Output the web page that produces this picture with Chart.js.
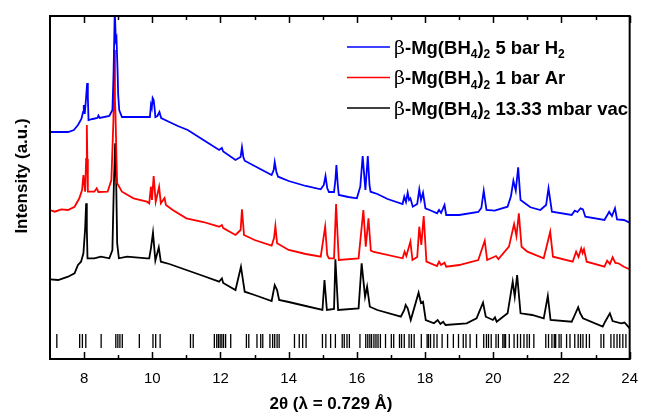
<!DOCTYPE html>
<html>
<head>
<meta charset="utf-8">
<script src="https://cdn.jsdelivr.net/npm/chart.js@4.4.0/dist/chart.umd.min.js"></script>
<style>
  html, body { margin: 0; padding: 0; background: #fff; }
  canvas { display: block; }
</style>
</head>
<body>
<canvas id="grafica" width="649" height="414"></canvas>
<script>
// 2theta (deg) and intensity (a.u.), offset curves
const h2Angle = [7.00,7.30,7.53,7.70,7.82,7.92,7.97,7.99,8.02,8.06,8.09,8.11,8.13,8.25,8.39,8.42,8.46,8.74,8.83,8.86,8.90,8.93,8.95,8.98,9.00,9.03,9.11,9.50,9.93,9.96,9.985,10.01,10.04,10.07,10.09,10.15,10.21,10.26,10.50,10.75,11.04,11.50,11.96,12.04,12.08,12.44,12.59,12.63,12.67,12.71,13.00,13.50,13.56,13.59,13.64,13.69,14.00,14.50,14.94,15.03,15.08,15.13,15.18,15.33,15.37,15.40,15.44,15.47,15.75,16.00,16.10,16.17,16.25,16.32,16.37,16.40,16.60,16.90,17.34,17.39,17.44,17.49,17.53,17.57,17.64,17.77,17.83,17.88,17.94,18.01,18.20,18.35,18.41,18.47,18.57,18.62,19.00,19.56,19.65,19.72,19.80,20.04,20.42,20.52,20.59,20.66,20.73,20.80,21.09,21.38,21.55,21.62,21.72,22.30,22.39,22.47,22.56,22.63,22.70,23.26,23.40,23.48,23.57,23.63,23.83,24.00];
const h2Int = [227,227,227,229,234,240,247,254,245,262,276,262,239,240,241,243.5,241,243,249,279,349,319,321,290,264,249,242,242,242,254,251,261,259,250,242,243,247,241,237,233,229,219,209,211,207.5,199,202,211.7,202,198.3,193,184,189,197,187,182.3,178,173,169.7,174,183,171,167,167,179,194,174,164,162,160.7,172.3,203,169,203,174,167.3,165,160,155,162.3,157,166.3,159,160.7,152.3,155,169.7,159,166.3,150.7,148,145.7,149,146,154,144,144,147,151,168.3,149,148.3,152.3,163,178.3,168.3,191.7,159,151.7,149,154,170.7,147.3,144,148.3,147,150.7,149.7,142.3,139,147.3,143,150.7,139.7,139,136.3];

const arAngle = [7.00,7.14,7.33,7.53,7.72,7.86,7.94,7.98,8.03,8.06,8.08,8.095,8.11,8.30,8.37,8.42,8.69,8.80,8.86,8.88,8.905,8.92,8.95,8.97,9.11,9.45,9.84,9.91,9.96,9.99,10.04,10.10,10.20,10.25,10.36,10.40,10.60,11.00,11.50,11.96,12.04,12.08,12.44,12.59,12.63,12.69,13.00,13.50,13.57,13.61,13.66,14.00,14.50,14.94,15.07,15.13,15.18,15.33,15.39,15.47,16.05,16.19,16.26,16.34,16.41,16.50,17.34,17.40,17.45,17.57,17.63,17.77,17.83,17.89,17.96,18.04,18.35,18.41,18.47,18.57,18.62,19.00,19.56,19.75,19.82,20.08,20.15,20.46,20.61,20.68,20.75,20.83,21.00,21.48,21.67,21.75,22.33,22.43,22.50,22.58,22.62,22.66,22.74,23.26,23.34,23.42,23.50,23.58,23.67,23.83,24.00];
const arInt = [149,147.3,149.7,149,152.3,160.7,169,184,167.3,200,234,200,167.3,167.3,170.7,167,167.3,179,239,309,259,246,200,175.7,167.3,160.7,157.3,155.7,172.3,159,183,157.3,172.3,155.7,161,154,149,140.7,137,132.3,134,131,124,129,149.7,124,119,113.3,121,133,115.7,109,105,102.3,132.3,104,100.7,100.7,155,99,100.7,149,112.3,140.7,108.3,107,100.7,107.3,103,117.3,99,102,132.3,114,143,97.3,93,97.3,94,96.3,92.3,94,99,118.3,99,103,100,112.3,135,123,145.7,112.3,107.3,100.7,127.3,102.3,97.3,107.3,102,110.7,106,109.7,97.3,92.3,98.3,95,101.7,96,95.7,92.3,89.7];

const vacAngle = [7.00,7.24,7.53,7.72,7.82,7.91,7.98,8.03,8.06,8.08,8.10,8.30,8.49,8.74,8.83,8.87,8.91,8.94,8.97,9.02,9.26,9.84,9.91,9.96,10.02,10.09,10.19,10.25,10.50,11.00,11.50,11.96,12.04,12.08,12.44,12.60,12.71,13.00,13.50,13.59,13.66,13.72,14.00,14.50,14.99,15.05,15.12,15.33,15.37,15.45,16.05,16.14,16.24,16.30,16.38,16.60,17.29,17.39,17.43,17.49,17.58,17.81,17.88,17.94,18.02,18.26,18.37,18.45,18.53,18.60,19.22,19.51,19.70,19.78,19.99,20.05,20.10,20.42,20.57,20.63,20.70,20.80,21.14,21.48,21.60,21.68,22.30,22.39,22.49,22.55,22.63,23.21,23.28,23.42,23.50,23.75,23.85,24.00];
const vacInt = [79.7,79,82.3,85.7,94,97.3,105.7,130,155.7,130,100.7,100.7,102.3,100.7,109,170,215.7,180,115.7,100.7,102.3,100.7,100.7,110.7,126.3,98.3,111.7,97.3,95,89,83,77.3,80.7,76,69,92.3,67.3,64,58,74,69,59,57,53,49,79,49,50,99.7,49,50.7,95.7,62.3,72.3,52.3,49,42.3,49,54,50.7,39,66.3,56,57.3,39,35.7,39,35,37.3,34,35.7,40.7,56.3,42.3,39,41.7,37.3,45.7,77.3,62.3,84,45.7,44,40.7,63,39,37.3,44,51.7,45.7,40.7,32.3,37.3,45.7,38,35.7,36.5,30.7];

// reference reflection positions (2theta)
const refAngle = [7.20,7.87,7.95,8.05,8.50,8.93,8.99,9.05,9.12,9.62,10.02,10.10,10.23,11.12,11.20,11.82,11.89,11.94,11.99,12.04,12.09,12.15,12.30,12.76,12.83,13.07,13.18,13.24,13.45,13.53,13.59,13.66,13.72,14.17,14.31,14.41,14.51,14.99,15.09,15.23,15.37,15.57,15.63,15.71,15.78,16.09,16.26,16.32,16.38,16.43,16.50,16.56,16.62,16.69,16.84,17.01,17.08,17.25,17.31,17.39,17.53,17.60,17.68,17.89,18.06,18.10,18.16,18.26,18.35,18.50,18.66,18.83,18.98,19.12,19.20,19.32,19.51,19.72,19.80,19.86,19.94,20.08,20.15,20.28,20.32,20.36,20.47,20.61,20.71,20.80,20.90,20.99,21.06,21.19,21.54,21.62,21.72,21.79,21.83,21.93,21.99,22.15,22.25,22.39,22.49,22.56,22.63,22.73,22.82,23.16,23.24,23.45,23.54,23.63,23.71,23.80,23.89];
const refLevel = 18;

const xTickValues = [8,10,12,14,16,18,20,22,24];
const xMinorValues = [9,11,13,15,17,19,21,23];

const seriesNames = [
  [['β', 'b'], ['-Mg(BH', 'n'], ['4', 's'], [')', 'n'], ['2', 's'], [' 5 bar H', 'n'], ['2', 's']],
  [['β', 'b'], ['-Mg(BH', 'n'], ['4', 's'], [')', 'n'], ['2', 's'], [' 1 bar Ar', 'n']],
  [['β', 'b'], ['-Mg(BH', 'n'], ['4', 's'], [')', 'n'], ['2', 's'], [' 13.33 mbar vac', 'n']]
];
const seriesColors = ['#0000ff', '#ff0000', '#000000'];

const puntos = (xs, ys) => xs.map((x, i) => ({ x: x, y: ys[i] }));

const FONT = "'Liberation Sans', Arial, sans-serif";

const marco = {
  id: 'marco',
  afterDraw(chart) {
    const ctx = chart.ctx;
    const a = chart.chartArea;
    const xs = chart.scales.x;
    ctx.save();
    ctx.strokeStyle = '#000';
    ctx.lineWidth = 2;
    ctx.strokeRect(a.left, a.top, a.right - a.left, a.bottom - a.top);
    // inward ticks on top and bottom
    ctx.lineWidth = 1.5;
    const tick = (v, len) => {
      const px = Math.round(xs.getPixelForValue(v)) + 0.5;
      ctx.beginPath();
      ctx.moveTo(px, a.bottom); ctx.lineTo(px, a.bottom - len);
      ctx.moveTo(px, a.top); ctx.lineTo(px, a.top + len);
      ctx.stroke();
    };
    xTickValues.forEach(v => tick(v, 7));
    xMinorValues.forEach(v => tick(v, 4));

    // legend
    const rows = [47, 77.5, 108];
    seriesNames.forEach((segs, i) => {
      const y = rows[i];
      ctx.strokeStyle = seriesColors[i];
      ctx.lineWidth = 1.5;
      ctx.beginPath();
      ctx.moveTo(347, y); ctx.lineTo(390, y);
      ctx.stroke();
      let x = 394;
      ctx.fillStyle = '#000';
      ctx.textBaseline = 'alphabetic';
      segs.forEach(([t, k]) => {
        let dy = 6.5;
        if (k === 'b') ctx.font = "19px 'DejaVu Serif', serif";
        else if (k === 's') { ctx.font = 'bold 12px ' + FONT; dy = 11; }
        else ctx.font = 'bold 18.5px ' + FONT;
        ctx.fillText(t, x, y + dy);
        x += ctx.measureText(t).width;
      });
    });

    // axis titles
    ctx.fillStyle = '#000';
    ctx.textAlign = 'center';
    ctx.textBaseline = 'middle';
    ctx.font = 'bold 17px ' + FONT;
    ctx.fillText('2θ (λ = 0.729 Å)', 331, 404);
    ctx.translate(22, 176);
    ctx.rotate(-Math.PI / 2);
    ctx.fillText('Intensity (a.u.)', 0, 0);
    ctx.restore();
  }
};

new Chart(document.getElementById('grafica'), {
  type: 'line',
  data: {
    datasets: [
      { data: puntos(h2Angle, h2Int), borderColor: seriesColors[0], borderWidth: 1.8, pointRadius: 0, tension: 0 },
      { data: puntos(arAngle, arInt), borderColor: seriesColors[1], borderWidth: 1.8, pointRadius: 0, tension: 0 },
      { data: puntos(vacAngle, vacInt), borderColor: seriesColors[2], borderWidth: 1.8, pointRadius: 0, tension: 0 },
      {
        data: refAngle.map(x => ({ x: x, y: refLevel })),
        showLine: false, pointStyle: 'line', rotation: 90, pointRadius: 7,
        borderColor: '#000', borderWidth: 1.3, pointBorderWidth: 1.3
      }
    ]
  },
  options: {
    responsive: false,
    animation: false,
    devicePixelRatio: 1,
    layout: { padding: { left: 50, top: 16, right: 12, bottom: 0 } },
    plugins: { legend: { display: false }, tooltip: { enabled: false } },
    scales: {
      x: {
        type: 'linear', min: 7, max: 24,
        grid: { display: false, drawTicks: false },
        border: { display: false },
        ticks: { color: '#000', font: { family: FONT, size: 15 }, padding: 11, includeBounds: false },
        afterBuildTicks: s => { s.ticks = xTickValues.map(v => ({ value: v })); },
        afterFit: s => { s.height = 55; }
      },
      y: { display: false, min: 0, max: 343 }
    }
  },
  plugins: [marco]
});
</script>
</body>
</html>
